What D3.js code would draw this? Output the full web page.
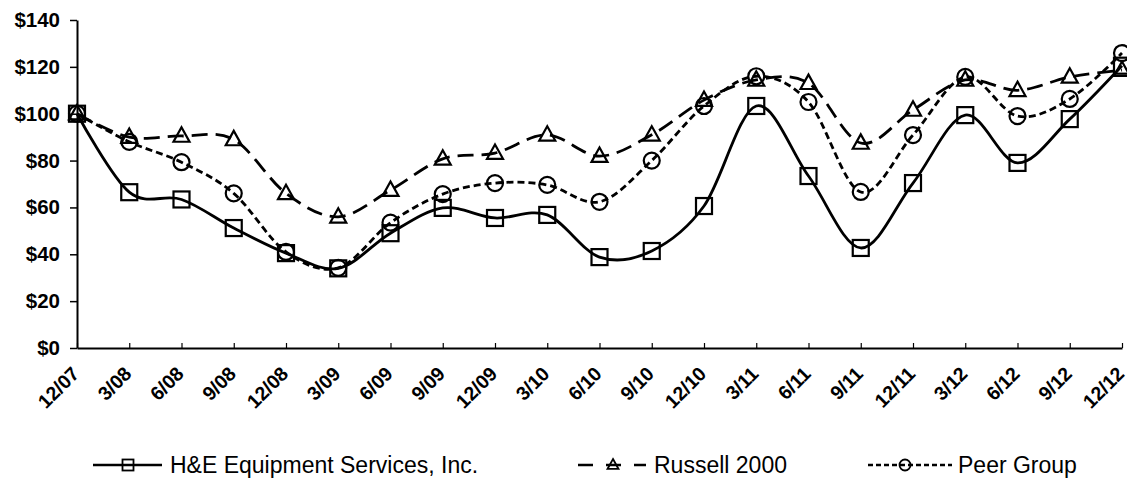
<!DOCTYPE html>
<html>
<head>
<meta charset="utf-8">
<script src="https://cdn.jsdelivr.net/npm/d3@7"></script>
<style>
html,body{margin:0;padding:0;background:#fff;}
svg{display:block;font-family:"Liberation Sans",Arial,sans-serif;}
</style>
</head>
<body>
<svg id="chart" width="1127" height="483"></svg>
<script>
const categories = ["12/07","3/08","6/08","9/08","12/08","3/09","6/09","9/09","12/09","3/10","6/10","9/10","12/10","3/11","6/11","9/11","12/11","3/12","6/12","9/12","12/12"];
const heValues = [100,66.5,63.4,51.2,40.5,34,49,59.8,55.5,56.8,38.8,41.4,60.6,103.3,73.4,42.7,70.4,99.4,79,97.7,120.5];
const russellValues = [100,90,90.5,89,66,56,67.4,80.7,83.2,91,81.9,91,105.8,114.4,113,87.5,101.6,114.4,110,115.7,118.6];
const peerValues = [100,88,79.3,66,41,34.2,53.5,65.7,70.4,69.6,62.4,80,103.3,116,105,66.6,90.9,115.7,99,106.3,125.9];
const yTicks = [0,20,40,60,80,100,120,140];
const seriesNames = ["H&E Equipment Services, Inc.","Russell 2000","Peer Group"];

const svg = d3.select("#chart");
const x = d3.scalePoint().domain(categories).range([77,1122]);
const y = d3.scaleLinear().domain([0,140]).range([348,20]);

// Y axis
const yAxis = svg.append("g").attr("transform","translate(77,0)")
  .call(d3.axisLeft(y).tickValues(yTicks).tickSize(7).tickSizeOuter(0).tickPadding(10).tickFormat(d=>"$"+d));
yAxis.select(".domain").attr("stroke","#000").attr("stroke-width",2);
yAxis.selectAll(".tick line").attr("stroke","#000").attr("stroke-width",1.5);
yAxis.selectAll(".tick text").attr("font-size",20.5).attr("font-weight","bold").attr("fill","#000")
  .attr("font-family","'Liberation Sans',Arial,sans-serif");

// X axis
const xAxis = svg.append("g").attr("transform","translate(0,348)")
  .call(d3.axisBottom(x).tickSize(-5).tickSizeOuter(0));
xAxis.select(".domain").attr("stroke","#000").attr("stroke-width",2);
xAxis.selectAll(".tick line").attr("stroke","#000").attr("stroke-width",1.2);
xAxis.selectAll(".tick text")
  .attr("font-size",19.5).attr("font-weight","bold").attr("fill","#000")
  .attr("font-family","'Liberation Sans',Arial,sans-serif")
  .attr("text-anchor","end").attr("y",null).attr("dy",null)
  .attr("transform","translate(3,27) rotate(-45)");

const line = d3.line().x((d,i)=>x(categories[i])).y(d=>y(d)).curve(d3.curveCardinal.tension(0));

const series = [
  {name:seriesNames[0], values:heValues, dash:null, marker:"square"},
  {name:seriesNames[1], values:russellValues, dash:"16,8", marker:"triangle"},
  {name:seriesNames[2], values:peerValues, dash:"7,4", marker:"circle"}
];

function drawMarker(g, type, cx, cy, s, sw){
  if(type==="square"){
    g.append("rect").attr("x",cx-s/2).attr("y",cy-s/2).attr("width",s).attr("height",s)
      .attr("fill","none").attr("stroke","#000").attr("stroke-width",sw);
  } else if(type==="triangle"){
    const h = s*0.9;
    g.append("path").attr("d",`M${cx},${cy-h*0.6}L${cx+s/2},${cy+h*0.4}L${cx-s/2},${cy+h*0.4}Z`)
      .attr("fill","none").attr("stroke","#000").attr("stroke-width",sw);
  } else {
    g.append("circle").attr("cx",cx).attr("cy",cy).attr("r",s/2)
      .attr("fill","none").attr("stroke","#000").attr("stroke-width",sw);
  }
}

const plot = svg.append("g");
series.forEach(s=>{
  plot.append("path").datum(s.values).attr("d",line)
    .attr("fill","none").attr("stroke","#000").attr("stroke-width",2.8)
    .attr("stroke-dasharray",s.dash);
});
series.forEach(s=>{
  const g = plot.append("g");
  s.values.forEach((v,i)=>drawMarker(g, s.marker, x(categories[i]), y(v), 16, 2.2));
});

// Legend
const legendY = 465;
const legendItems = [
  {x1:93, x2:162, mx:128, tx:170, dash:null},
  {x1:578, x2:646, mx:613, tx:654, dash:"15,13"},
  {x1:868, x2:952, mx:905, tx:958, dash:"5,3"}
];
legendItems.forEach((it,k)=>{
  const g = svg.append("g");
  g.append("line").attr("x1",it.x1).attr("x2",it.x2).attr("y1",legendY).attr("y2",legendY)
    .attr("stroke","#000").attr("stroke-width",2.4).attr("stroke-dasharray",it.dash);
  drawMarker(g, series[k].marker, it.mx, legendY, 11, 1.8);
  g.append("text").attr("x",it.tx).attr("y",legendY+8).attr("font-size",23)
    .attr("fill","#000").text(series[k].name);
});
</script>
</body>
</html>
